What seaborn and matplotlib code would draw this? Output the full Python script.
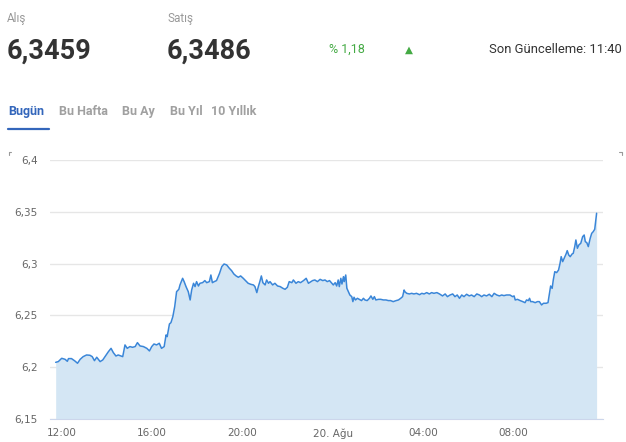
import pandas as pd
import seaborn as sns
import matplotlib
matplotlib.use("Agg")
import matplotlib.pyplot as plt
from matplotlib.lines import Line2D

# 1. Data (USD/TRY intraday, last 24h)
times = [
    "11:44", "11:51", "12:00", "12:09", "12:15", "12:18", "12:26", "12:35", "12:42", "12:49",
    "12:57", "13:06", "13:15", "13:21", "13:27", "13:33", "13:42", "13:49", "13:55", "14:04",
    "14:11", "14:17", "14:24", "14:30", "14:37", "14:42", "14:48", "14:54", "15:01", "15:08",
    "15:15", "15:21", "15:28", "15:37", "15:46", "15:53", "15:59", "16:05", "16:12", "16:19",
    "16:25", "16:32", "16:37", "16:40", "16:46", "16:50", "16:55", "17:00", "17:05", "17:11",
    "17:14", "17:21", "17:25", "17:30", "17:36", "17:41", "17:45", "17:50", "17:54", "17:58",
    "18:03", "18:07", "18:14", "18:20", "18:25", "18:32", "18:36", "18:40", "18:45", "18:51",
    "18:59", "19:05", "19:11", "19:18", "19:25", "19:31", "19:37", "19:43", "19:49", "19:55",
    "20:02", "20:08", "20:15", "20:22", "20:29", "20:33", "20:38", "20:42", "20:46", "20:50",
    "20:54", "21:00", "21:04", "21:09", "21:13", "21:20", "21:26", "21:33", "21:40", "21:47",
    "21:53", "21:59", "22:04", "22:11", "22:15", "22:22", "22:28", "22:34", "22:42", "22:49",
    "22:55", "23:06", "23:12", "23:19", "23:26", "23:33", "23:39", "23:45", "23:51", "23:57",
    "00:01", "00:06", "00:10", "00:14", "00:17", "00:21", "00:24", "00:28", "00:30", "00:34",
    "00:37", "00:41", "00:45", "00:50", "00:53", "00:56", "01:00", "01:05", "01:10", "01:16",
    "01:21", "01:25", "01:31", "01:37", "01:41", "01:46", "01:50", "01:54", "02:01", "02:07",
    "02:14", "02:21", "02:27", "02:33", "02:40", "02:48", "02:54", "03:00", "03:05", "03:09",
    "03:11", "03:16", "03:23", "03:29", "03:35", "03:42", "03:50", "03:56", "04:02", "04:09",
    "04:16", "04:22", "04:28", "04:36", "04:43", "04:51", "04:58", "05:04", "05:11", "05:18",
    "05:24", "05:30", "05:36", "05:42", "05:48", "05:55", "06:02", "06:08", "06:15", "06:22",
    "06:29", "06:35", "06:41", "06:48", "06:55", "07:02", "07:08", "07:15", "07:22", "07:28",
    "07:34", "07:41", "07:50", "07:57", "08:01", "08:04", "08:10", "08:17", "08:24", "08:30",
    "08:34", "08:39", "08:42", "08:45", "08:50", "08:57", "09:03", "09:08", "09:14", "09:19",
    "09:26", "09:31", "09:35", "09:38", "09:42", "09:45", "09:49", "09:54", "09:59", "10:03",
    "10:06", "10:10", "10:14", "10:19", "10:22", "10:26", "10:30", "10:35", "10:38", "10:42",
    "10:45", "10:49", "10:53", "10:58", "11:03", "11:07", "11:10", "11:14", "11:18", "11:23",
    "11:27", "11:31", "11:35", "11:37", "11:39", "11:40",
]
rates = [
    6.2047, 6.2054, 6.2086, 6.2076, 6.2057, 6.2083, 6.2083, 6.2060, 6.2038, 6.2076,
    6.2102, 6.2118, 6.2115, 6.2102, 6.2063, 6.2096, 6.2054, 6.2070, 6.2102, 6.2150,
    6.2182, 6.2141, 6.2108, 6.2118, 6.2108, 6.2102, 6.2215, 6.2182, 6.2199, 6.2192,
    6.2199, 6.2237, 6.2205, 6.2199, 6.2182, 6.2157, 6.2199, 6.2224, 6.2215, 6.2231,
    6.2182, 6.2199, 6.2311, 6.2295, 6.2417, 6.2430, 6.2488, 6.2585, 6.2729, 6.2752,
    6.2794, 6.2858, 6.2826, 6.2778, 6.2729, 6.2649, 6.2745, 6.2810, 6.2778, 6.2826,
    6.2784, 6.2810, 6.2816, 6.2836, 6.2816, 6.2826, 6.2890, 6.2816, 6.2826, 6.2836,
    6.2906, 6.2971, 6.2996, 6.2987, 6.2955, 6.2932, 6.2900, 6.2881, 6.2868, 6.2881,
    6.2858, 6.2836, 6.2810, 6.2800, 6.2794, 6.2778, 6.2720, 6.2778, 6.2826, 6.2881,
    6.2816, 6.2794, 6.2842, 6.2810, 6.2826, 6.2794, 6.2810, 6.2784, 6.2778, 6.2762,
    6.2752, 6.2771, 6.2826, 6.2816, 6.2842, 6.2810, 6.2826, 6.2816, 6.2836, 6.2858,
    6.2810, 6.2836, 6.2842, 6.2826, 6.2848, 6.2836, 6.2842, 6.2826, 6.2836, 6.2810,
    6.2794, 6.2816, 6.2784, 6.2842, 6.2778, 6.2858, 6.2803, 6.2874, 6.2826, 6.2890,
    6.2762, 6.2729, 6.2697, 6.2681, 6.2633, 6.2675, 6.2649, 6.2665, 6.2655, 6.2643,
    6.2665, 6.2649, 6.2643, 6.2665, 6.2688, 6.2655, 6.2681, 6.2649, 6.2655, 6.2655,
    6.2649, 6.2649, 6.2643, 6.2643, 6.2633, 6.2643, 6.2649, 6.2665, 6.2681, 6.2745,
    6.2729, 6.2713, 6.2707, 6.2713, 6.2707, 6.2713, 6.2700, 6.2713, 6.2707, 6.2720,
    6.2707, 6.2720, 6.2713, 6.2720, 6.2707, 6.2688, 6.2707, 6.2681, 6.2697, 6.2707,
    6.2681, 6.2697, 6.2665, 6.2697, 6.2681, 6.2704, 6.2688, 6.2697, 6.2681, 6.2707,
    6.2697, 6.2681, 6.2697, 6.2688, 6.2704, 6.2681, 6.2713, 6.2697, 6.2688, 6.2697,
    6.2691, 6.2697, 6.2697, 6.2681, 6.2688, 6.2649, 6.2655, 6.2643, 6.2633, 6.2623,
    6.2649, 6.2643, 6.2665, 6.2633, 6.2633, 6.2623, 6.2633, 6.2633, 6.2601, 6.2617,
    6.2617, 6.2623, 6.2713, 6.2784, 6.2761, 6.2842, 6.2922, 6.2913, 6.2938, 6.3003,
    6.3067, 6.3019, 6.3051, 6.3093, 6.3125, 6.3083, 6.3067, 6.3093, 6.3099, 6.3164,
    6.3228, 6.3148, 6.3180, 6.3196, 6.3260, 6.3276, 6.3212, 6.3202, 6.3164, 6.3244,
    6.3292, 6.3308, 6.3331, 6.3389, 6.3453, 6.3486,
]

x_ticks = [0, 4, 8, 12, 16, 20]  # hours after 12:00
x_tick_labels = ["12:00", "16:00", "20:00", "20. Ağu", "04:00", "08:00"]
y_ticks = [6.15, 6.2, 6.25, 6.3, 6.35, 6.4]
y_tick_labels = ["6,15", "6,2", "6,25", "6,3", "6,35", "6,4"]

bid = "6,3459"
ask = "6,3486"
change = "% 1,18"
updated = "Son Güncelleme: 11:40"
tabs = ["Bugün", "Bu Hafta", "Bu Ay", "Bu Yıl", "10 Yıllık"]

# 2. Build dataframe, hours since 12:00 of first day
df = pd.DataFrame({"time": times, "rate": rates})
t = pd.to_datetime(df["time"], format="%H:%M")
h = t.dt.hour + t.dt.minute / 60
day = (h.diff() < 0).cumsum()
df["hours"] = h + day * 24 - 12

# 3. Plot
sns.set_style("white")
plt.rcParams["font.family"] = ["DejaVu Sans"]

W, H = 626, 442
fig = plt.figure(figsize=(W / 100, H / 100), dpi=100)
ax = fig.add_axes([50 / W, 1 - 419 / H, 553 / W, 259 / H])

line_color = "#3a86d8"
ax.fill_between(df["hours"], df["rate"], 6.15, color="#d4e6f4", lw=0, zorder=1)
sns.lineplot(data=df, x="hours", y="rate", ax=ax, color=line_color, linewidth=1.1, zorder=3)

ax.set_xlim(-0.518, 23.95)
ax.set_ylim(6.15, 6.4)
ax.set_yticks(y_ticks)
ax.set_yticklabels(y_tick_labels)
ax.set_xticks(x_ticks)
ax.set_xticklabels(x_tick_labels)
ax.set_xlabel("")
ax.set_ylabel("")
ax.grid(axis="y", color="#e6e6e6", lw=1, zorder=0)
ax.set_axisbelow(True)
for s in ["top", "left", "right"]:
    ax.spines[s].set_visible(False)
ax.spines["bottom"].set_color("#ccd6eb")
ax.spines["bottom"].set_zorder(4)
ax.tick_params(axis="y", length=0, pad=9, labelsize=7.5, labelcolor="#666666")
ax.tick_params(axis="x", length=5, width=1, color="#ccd6eb", pad=1.5,
               labelsize=7.5, labelcolor="#666666")

# 4. Header
hf = "Roboto"
def fy(y):
    return 1 - y / H

fig.text(7 / W, fy(22), "Alış", family=hf, fontsize=8.5, color="#999999")
fig.text(167 / W, fy(22), "Satış", family=hf, fontsize=8.5, color="#999999")
fig.text(7 / W, fy(59), bid, family=hf, fontsize=19.5, weight="bold", color="#333333")
fig.text(167 / W, fy(59), ask, family=hf, fontsize=19.5, weight="bold", color="#333333")
fig.text(329 / W, fy(53), change, family=hf, fontsize=9, color="#44aa44")
fig.text(409 / W, fy(53), "▲", family="DejaVu Sans", fontsize=7.5, color="#44aa44", ha="center")
fig.text(622 / W, fy(53), updated, family=hf, fontsize=9.4, color="#333333", ha="right")

tab_x = [8, 59, 122, 170, 211]
for i, (name, xx) in enumerate(zip(tabs, tab_x)):
    fig.text(xx / W, fy(115), name, family=hf, fontsize=9, weight="bold",
             color="#3366bb" if i == 0 else "#a0a0a0")
fig.add_artist(Line2D([8 / W, 49 / W], [fy(128.5)] * 2, color="#3366bb", lw=1.6))

# small corner marks
fig.add_artist(Line2D([9 / W, 9 / W, 11 / W], [fy(155), fy(151.5), fy(151.5)], color="#999999", lw=0.8))
fig.add_artist(Line2D([619 / W, 622 / W, 622 / W], [fy(151.5), fy(151.5), fy(155)], color="#999999", lw=0.8))

fig.savefig("out.png", dpi=100)
